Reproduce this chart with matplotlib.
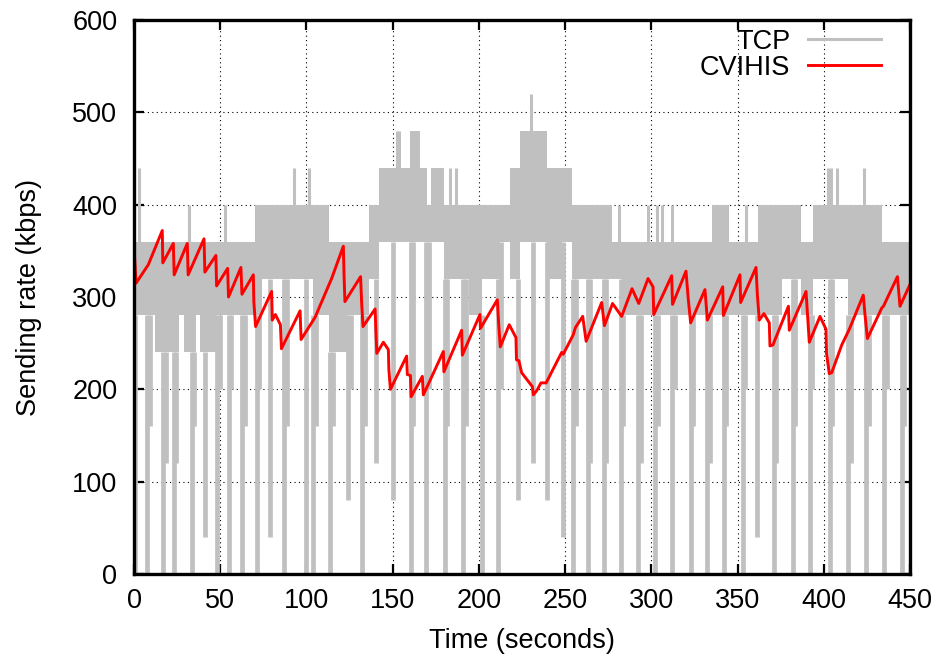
import numpy as np
import matplotlib
matplotlib.use("Agg")
import matplotlib.pyplot as plt
from matplotlib.lines import Line2D

OUTPUT_GRAPH = "out.png"

# CVIHIS sending rate (kbps)
red_t = [0.3, 1.2, 8.3, 16.4, 16.7, 22.8, 23.3, 30.9, 31.4, 40.6, 41.1, 47.5, 47.9,
         54.3, 54.8, 62.0, 62.6, 69.2, 69.5, 70.5, 79.8, 80.2, 82.0, 84.9, 85.5,
         96.3, 96.9, 105.0, 114.6, 121.4, 121.8, 122.3, 131.4, 132.0, 132.8, 139.8,
         140.3, 140.8, 144.6, 147.5, 147.8, 148.7, 158.1, 158.5, 160.3, 160.7, 167.2,
         167.8, 179.4, 179.7, 190.0, 190.4, 200.6, 200.9, 210.7, 211.5, 212.4, 217.6,
         221.5, 221.8, 223.2, 224.8, 231.0, 231.6, 233.7, 236.0, 239.0, 248.0, 248.9,
         254.7, 256.0, 260.2, 262.2, 271.2, 272.8, 277.5, 282.8, 288.8, 292.7, 298.1,
         301.0, 301.4, 311.8, 312.3, 320.1, 321.4, 322.8, 331.1, 332.5, 341.4, 341.8,
         351.4, 351.8, 360.7, 361.5, 362.6, 365.3, 368.4, 368.8, 370.5, 379.5, 380.0,
         389.7, 391.6, 397.8, 401.3, 401.6, 403.2, 404.6, 410.4, 414.8, 422.9, 423.9,
         425.3, 433.6, 434.6, 442.7, 444.2, 449.6]
red_v = [345, 315, 335, 372, 337, 358, 324, 358, 324, 363, 327, 345, 312,
         331, 300, 332, 303, 324, 295, 268, 306, 275, 281, 270, 244,
         285, 254, 278, 320, 355, 324, 295, 322, 294, 268, 287,
         262, 239, 251, 243, 221, 200, 236, 216, 215, 192, 214,
         194, 241, 219, 264, 237, 281, 266, 297, 270, 246, 270,
         256, 232, 231, 218, 203, 194, 199, 207, 207, 240, 238,
         259, 267, 279, 252, 294, 269, 293, 279, 309, 293, 320,
         311, 281, 323, 292, 328, 298, 272, 308, 275, 311, 280,
         324, 294, 332, 302, 275, 282, 272, 247, 248, 290, 264,
         306, 251, 279, 265, 239, 217, 218, 248, 265, 302, 281,
         255, 288, 290, 322, 290, 312]

# TCP: band the rate toggles in (start time, low level, high level)
tcp_seg_t = [0, 12, 26, 29, 36, 38, 48, 70, 74, 104, 113, 124, 136, 142, 160, 166,
             170, 172, 180, 194, 202, 212, 218, 224, 239.5, 248, 254, 277, 283, 335,
             345, 362, 376, 387, 394, 414, 434]
tcp_seg_lo = [280, 240, 280, 240, 280, 240, 280, 280, 320, 280, 240, 280, 320, 360, 360, 360,
              360, 360, 320, 280, 320, 360, 320, 360, 320, 360, 320, 320, 280, 280,
              280, 280, 320, 280, 320, 280, 280]
tcp_seg_hi = [360, 360, 360, 360, 360, 360, 360, 400, 400, 400, 360, 360, 400, 440, 480, 440,
              400, 440, 400, 400, 400, 400, 440, 480, 440, 440, 400, 360, 360, 400,
              360, 400, 400, 360, 400, 400, 360]

# TCP drops (time, lowest rate)
tcp_dip_t = [0.8, 7.7, 17.0, 23.2, 33.4, 41.2, 48.2, 54.9, 62.8, 71.2, 79.0, 87.2, 99.6,
             104.0, 113.7, 124.3, 132.4, 140.3, 150.0, 160.7, 169.5, 180.3, 191.0, 201.6,
             211.3, 222.4, 231.6, 239.3, 248.5, 254.8, 263.0, 272.6, 282.4, 292.5, 302.3,
             312.2, 323.0, 332.5, 342.1, 352.9, 361.5, 371.1, 381.9, 392.0, 403.6, 414.2,
             424.7, 435.2, 445.2,
             9.4, 18.4, 24.6, 35.0, 49.6, 56.2, 64.2, 72.6, 88.6, 105.4, 115.2, 125.6,
             133.8, 162.0, 171.0, 181.6, 192.4, 213.0, 256.3, 264.4, 274.0, 283.8,
             293.9, 303.7, 313.6, 324.4, 333.9, 343.5, 354.3, 372.5, 383.3, 393.4,
             405.0, 415.6, 426.1, 436.6, 446.6]
tcp_dip_v = [0, 0, 0, 0, 0, 40, 0, 0, 0, 0, 40, 0, 0,
             0, 0, 80, 0, 120, 80, 0, 0, 0, 0, 0,
             0, 80, 120, 80, 40, 0, 0, 0, 0, 0, 0,
             0, 0, 0, 0, 0, 40, 0, 0, 0, 0, 0,
             0, 0, 0,
             160, 120, 120, 160, 200, 200, 160, 200, 160, 160, 160, 200,
             160, 160, 200, 160, 160, 200, 160, 120, 120, 160,
             120, 160, 200, 160, 120, 160, 200, 120, 160, 200,
             160, 120, 160, 200, 160]

# TCP short peaks (time, highest rate)
tcp_peak_t = [2.7, 31.7, 53.0, 92.6, 101.3, 152.5, 153.5, 183.5, 187.0, 230.0,
              252.0, 281.0, 298.0, 303.0, 306.0, 312.0, 355.0, 402.5, 404.0, 407.7, 423.3]
tcp_peak_v = [440, 400, 400, 440, 440, 480, 480, 440, 440, 520,
              440, 400, 400, 400, 400, 400, 400, 440, 440, 440, 440]

T_END = 450
GRAY = "#c0c0c0"
FS = 19.5

plt.rcParams["font.family"] = ["Liberation Sans", "DejaVu Sans"]

fig = plt.figure(figsize=(9.43, 6.59), dpi=100)
ax = fig.add_axes([134 / 943, 1 - 574 / 659, 776 / 943, 554 / 659])

# gray band of the TCP trace
seg_x = np.append(tcp_seg_t, T_END)
seg_lo = np.append(tcp_seg_lo, tcp_seg_lo[-1])
seg_hi = np.append(tcp_seg_hi, tcp_seg_hi[-1])
ax.fill_between(seg_x, seg_lo, seg_hi, step="post", color=GRAY, lw=0, zorder=2)

idx = np.searchsorted(tcp_seg_t, tcp_dip_t, side="right") - 1
ax.vlines(tcp_dip_t, tcp_dip_v, np.array(tcp_seg_lo)[idx], color=GRAY, lw=3.4, zorder=2)
idx = np.searchsorted(tcp_seg_t, tcp_peak_t, side="right") - 1
ax.vlines(tcp_peak_t, np.array(tcp_seg_hi)[idx], tcp_peak_v, color=GRAY, lw=2.2, zorder=2)

ax.plot(red_t, red_v, color="red", lw=2.1, zorder=3)

ax.set_xlim(0, 450)
ax.set_ylim(0, 600)
ax.set_xticks(range(0, 451, 50))
ax.set_yticks(range(0, 601, 100))
ax.grid(True, color="black", linestyle=(0, (1, 3)), lw=0.8)
ax.set_axisbelow(True)
for s in ax.spines.values():
    s.set_linewidth(2.4)
    s.set_zorder(5)
ax.tick_params(direction="in", length=7, width=1.6, top=True, right=True,
               labelsize=FS, pad=10)
ax.tick_params(axis="y", pad=12)

ax.set_xlabel("Time (seconds)", fontsize=FS, labelpad=10)
ax.set_ylabel("Sending rate (kbps)", fontsize=FS, labelpad=22)

handles = [Line2D([], [], color=GRAY, lw=2.2), Line2D([], [], color="red", lw=2.1)]
ax.legend(handles, ["TCP", "CVIHIS"], loc="upper right", bbox_to_anchor=(0.9626, 0.984),
          frameon=False, markerfirst=False, fontsize=FS, handlelength=2.7,
          handletextpad=0.65, labelspacing=0.0, borderpad=0, borderaxespad=0)

fig.savefig(OUTPUT_GRAPH, dpi=100)
